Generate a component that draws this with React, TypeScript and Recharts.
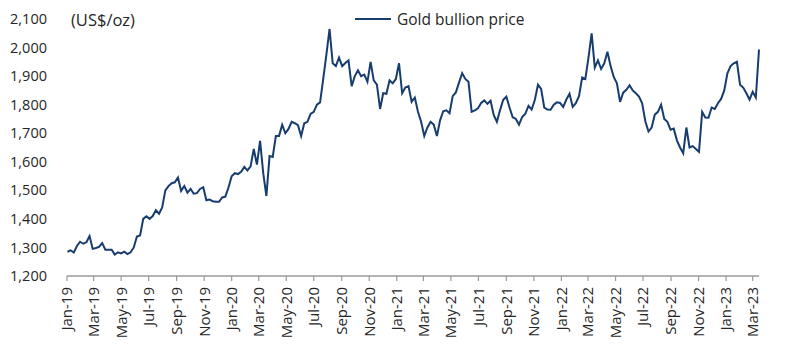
import { LineChart, Line, XAxis, YAxis } from 'recharts';

// weekly gold bullion price (US$/oz), one value per Wednesday from 2 Jan 2019
const gold2019 = [
  1285, 1290, 1282, 1305, 1320, 1313, 1318, 1340, 1295, 1298, 1302, 1315, 1292,
  1292, 1292, 1275, 1283, 1279, 1285, 1277, 1283, 1300, 1338, 1342, 1400, 1409,
  1400, 1410, 1430, 1418, 1440, 1500, 1515, 1525, 1528, 1545, 1498, 1515, 1492,
  1505, 1488, 1490, 1505, 1511, 1465, 1468, 1462, 1460, 1460, 1475, 1478, 1510,
];
const gold2020 = [
  1549, 1560, 1557, 1565, 1582, 1570, 1584, 1645, 1590, 1673, 1560, 1480, 1620,
  1617, 1690, 1690, 1730, 1700, 1715, 1740, 1735, 1728, 1690, 1735, 1740, 1768,
  1775, 1800, 1808, 1890, 1975, 2065, 1945, 1935, 1965, 1935, 1946, 1955, 1865,
  1900, 1920, 1900, 1905, 1880, 1950, 1885, 1870, 1785, 1840, 1838, 1885, 1875,
  1890,
];
const gold2021 = [
  1945, 1840, 1860, 1865, 1810, 1825, 1775, 1740, 1690, 1720, 1740, 1730, 1690,
  1745, 1777, 1780, 1770, 1830, 1843, 1877, 1910, 1890, 1880, 1775, 1780, 1787,
  1806, 1815, 1803, 1814, 1763, 1740, 1781, 1817, 1828, 1790, 1756, 1750, 1730,
  1757, 1768, 1796, 1783, 1816, 1870, 1855, 1790, 1783, 1782, 1800, 1808, 1806,
];
const gold2022 = [
  1792, 1818, 1838, 1792, 1805, 1830, 1895, 1890, 1965, 2050, 1930, 1955, 1925,
  1945, 1985, 1935, 1897, 1875, 1810, 1842, 1852, 1868, 1850, 1840, 1828, 1805,
  1742, 1706, 1720, 1765, 1775, 1800, 1750, 1740, 1712, 1716, 1675, 1650, 1630,
  1720, 1650, 1655, 1645, 1635, 1775, 1755, 1754, 1790, 1785, 1805, 1820, 1850,
];
const gold2023 = [1910, 1935, 1945, 1950, 1870, 1860, 1840, 1818, 1845, 1825, 1993];

const xTickLabels = [
  'Jan-19', 'Mar-19', 'May-19', 'Jul-19', 'Sep-19', 'Nov-19',
  'Jan-20', 'Mar-20', 'May-20', 'Jul-20', 'Sep-20', 'Nov-20',
  'Jan-21', 'Mar-21', 'May-21', 'Jul-21', 'Sep-21', 'Nov-21',
  'Jan-22', 'Mar-22', 'May-22', 'Jul-22', 'Sep-22', 'Nov-22',
  'Jan-23', 'Mar-23',
];
const yTicks = [1200, 1300, 1400, 1500, 1600, 1700, 1800, 1900, 2000, 2100];

const DAY = 86400000;
const ORIGIN = Date.UTC(2019, 0, 1);
const MONTHS = ['Jan', 'Feb', 'Mar', 'Apr', 'May', 'Jun', 'Jul', 'Aug', 'Sep', 'Oct', 'Nov', 'Dec'];

const prices = [...gold2019, ...gold2020, ...gold2021, ...gold2022, ...gold2023];
// first point is Wed 2 Jan 2019 (day 1), then weekly
const data = prices.map((price, i) => ({ day: 1 + 7 * i, price }));

const tickDays = xTickLabels.map((label) => {
  const [mon, yy] = label.split('-');
  return (Date.UTC(2000 + Number(yy), MONTHS.indexOf(mon), 1) - ORIGIN) / DAY;
});
const labelByDay: Record<number, string> = {};
tickDays.forEach((d, i) => { labelByDay[d] = xTickLabels[i]; });

const FONT = '"Open Sans", "Noto Sans", sans-serif';
const TEXT = '#262626';
const NAVY = '#173c6e';

const XTick = ({ x, y, payload }: { x?: number; y?: number; payload?: { value: number } }) => (
  <g transform={`translate(${x},${y})`}>
    <text
      transform="rotate(-90)"
      x={0}
      y={0}
      dy="0.36em"
      textAnchor="end"
      fill={TEXT}
      fontSize={15}
      fontFamily={FONT}
    >
      {labelByDay[payload?.value ?? 0]}
    </text>
  </g>
);

export default function App() {
  return (
    <div style={{ position: 'absolute', left: 0, top: 0, width: 789, height: 350, background: '#fff' }}>
      <LineChart
        width={789}
        height={350}
        data={data}
        margin={{ top: 19, right: 30, bottom: 14, left: 10 }}
      >
        <XAxis
          dataKey="day"
          type="number"
          domain={[0, 'dataMax']}
          ticks={tickDays}
          interval={0}
          height={60}
          tick={<XTick />}
          tickSize={5}
          tickMargin={6}
          axisLine={{ stroke: '#9a9a9a', strokeWidth: 1.5 }}
          tickLine={{ stroke: '#9a9a9a', strokeWidth: 1.2 }}
        />
        <YAxis
          type="number"
          domain={[1200, 2100]}
          ticks={yTicks}
          interval={0}
          width={57}
          axisLine={false}
          tickLine={false}
          tickSize={0}
          tickMargin={20}
          tick={{ fill: TEXT, fontSize: 14.5, fontFamily: FONT }}
          tickFormatter={(v: number) => v.toLocaleString('en-US')}
        />
        <Line
          type="linear"
          dataKey="price"
          stroke={NAVY}
          strokeWidth={2}
          dot={false}
          isAnimationActive={false}
        />
      </LineChart>
      <div
        style={{
          position: 'absolute', left: 71, top: 8, fontFamily: FONT, fontSize: 16.5, color: TEXT,
        }}
      >
        (US$/oz)
      </div>
      <div
        style={{
          position: 'absolute', left: 355, top: 8, display: 'flex', alignItems: 'center',
          fontFamily: FONT, fontSize: 15.5, color: TEXT,
        }}
      >
        <span style={{ display: 'inline-block', width: 36, height: 2, background: NAVY, marginRight: 6 }} />
        Gold bullion price
      </div>
    </div>
  );
}
